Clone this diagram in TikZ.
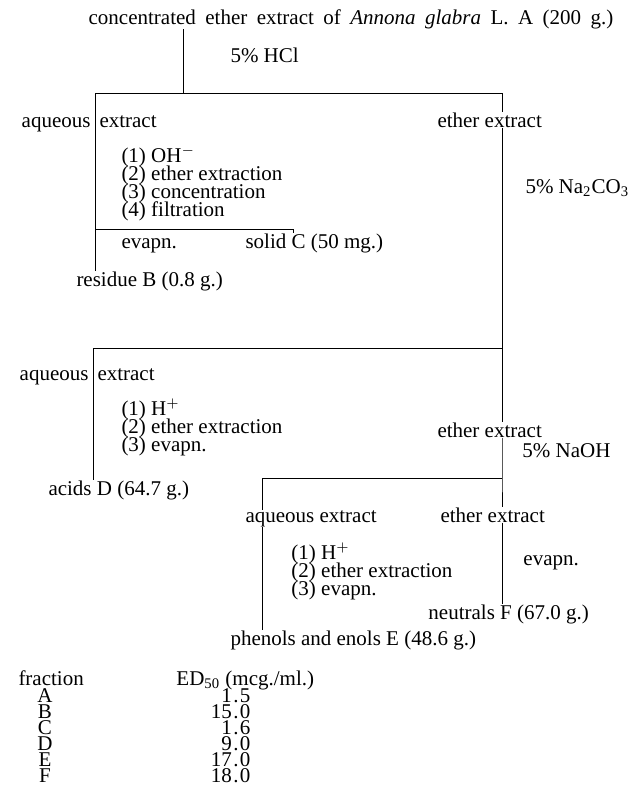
\documentclass[tikz,border=0pt]{standalone}
\usepackage{fontspec}
\setmainfont{Liberation Serif}

\begin{document}
\begin{tikzpicture}[x=0.5pt,y=-0.5pt,line width=0.5pt,
        every node/.style={inner sep=0pt,font=\fontsize{10.5}{12}\selectfont},
        lbl/.style={anchor=base west},
        lbr/.style={anchor=base east}]
    \useasboundingbox (0,0) rectangle (637,811);

    % starting material and first split
    \node[anchor=base] (top) at (351,24) {\spaceskip=.45em concentrated ether extract of \textit{Annona glabra} L. A (200 g.)};
    \node[lbl] (hcl) at (230,62) {5\% HCl};
    \coordinate (s1m) at (183,93);
    \coordinate (s1l) at (95,93);
    \coordinate (s1r) at (502,93);
    \node[lbr] (aq1) at (91,127) {aqueous};
    \node[lbl] (ex1) at (99,127) {extract};
    \node[lbl] (eth1) at (437,127) {ether extract};
    \node[lbl] (naco) at (525,193) {5\% Na\textsubscript{2}CO\textsubscript{3}};
    \foreach \t [count=\i] in {{(1) OH$^-$},{(2) ether extraction},{(3) concentration},{(4) filtration}}
        \node[lbl] (p\i) at (121,144+18*\i) {\t};
    \coordinate (s2l) at (95,229);
    \coordinate (s2r) at (293,229);
    \node[lbl] (ev1) at (121,248) {evapn.};
    \node[lbl] (sol) at (245,248) {solid C (50 mg.)};
    \node[lbl] (res) at (76,286) {residue B (0.8 g.)};

    % sodium carbonate split
    \coordinate (s3l) at (93,348);
    \coordinate (s3r) at (502,348);
    \node[lbr] (aq2) at (89,380) {aqueous};
    \node[lbl] (ex2) at (97,380) {extract};
    \foreach \t [count=\i] in {{(1) H$^+$},{(2) ether extraction},{(3) evapn.}}
        \node[lbl] (q\i) at (121,397+18*\i) {\t};
    \node[lbl] (eth2) at (437,437) {ether extract};
    \node[lbl] (naoh) at (522,457) {5\% NaOH};
    \node[lbl] (acd) at (48,495) {acids D (64.7 g.)};

    % sodium hydroxide split
    \coordinate (s4l) at (262,478);
    \coordinate (s4r) at (502,478);
    \node[lbl] (aq3) at (245,522) {aqueous extract};
    \node[lbl] (eth3) at (440,522) {ether extract};
    \foreach \t [count=\i] in {{(1) H$^+$},{(2) ether extraction},{(3) evapn.}}
        \node[lbl] (r\i) at (291,541+18*\i) {\t};
    \node[lbl] (ev3) at (523,565) {evapn.};
    \node[lbl] (neu) at (428,619) {neutrals F (67.0 g.)};
    \node[lbl] (phe) at (230,645) {phenols and enols E (48.6 g.)};

    % connectors
    \draw (s1m |- top.south) -- (s1m);
    \draw (s1r |- eth1.north) -- (s1r) -- (s1l) -- (s1l |- res.north);
    \draw (s2l) -- (s2r) -- (s2r |- sol.north);
    \draw (s1r |- eth1.south) -- (s1r |- eth2.north);
    \draw (s1r |- eth2.south) -- (s4r) -- (s1r |- eth3.north);
    \draw (s1r |- eth3.south) -- (s1r |- neu.north);
    \draw (s3r) -- (s3l) -- (s3l |- acd.north);
    \draw (s4r) -- (s4l) -- (s4l |- aq3.north);
    \draw (s4l |- aq3.south) -- (s4l |- phe.north);

    % activity table
    \node[lbl] (frc) at (18,685) {fraction};
    \node[lbl] (edh) at (176,685) {ED\textsubscript{50} (mcg./ml.)};
    \foreach \f/\a/\b [count=\i] in {A/1/5,B/15/0,C/1/6,D/9/0,E/17/0,F/18/0} {
        \node[anchor=base] (f\i) at (45,686+16*\i) {\f};
        \node[lbr] (v\i) at (251,686+16*\i) {\a\kern.7pt.\kern.7pt\b};
    }
\end{tikzpicture}
\end{document}
